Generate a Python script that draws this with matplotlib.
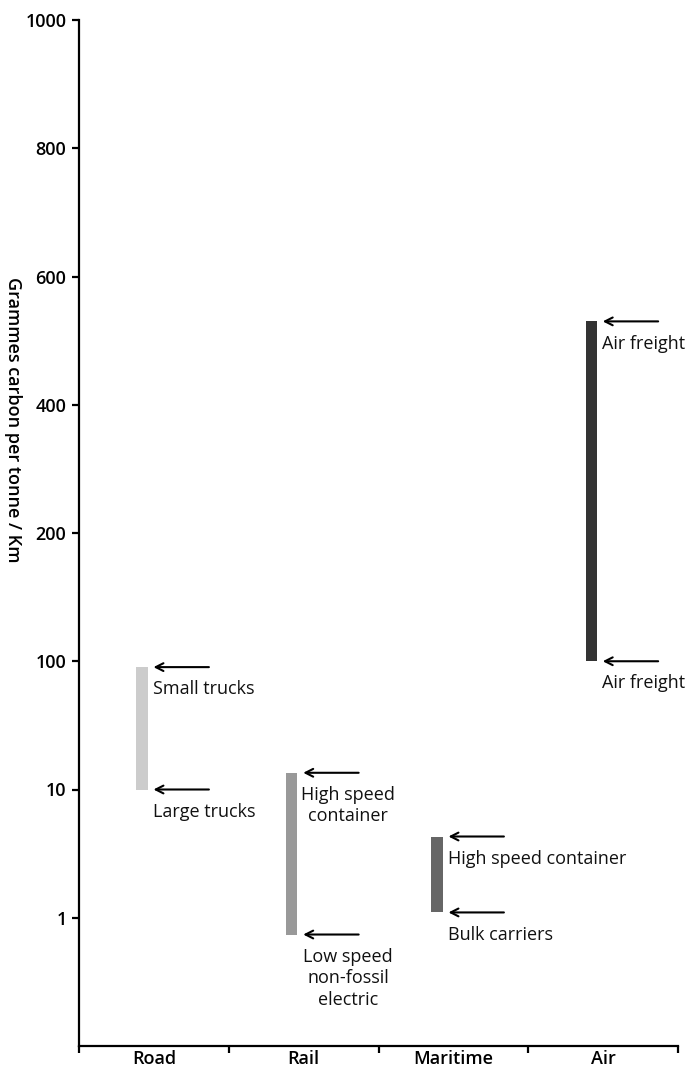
import numpy as np
import matplotlib
matplotlib.use("Agg")
import matplotlib.pyplot as plt
from matplotlib.ticker import NullLocator, FixedLocator

plt.rcParams['font.family'] = ['Open Sans', 'DejaVu Sans']

# Carbon intensity ranges per transport mode (g carbon per tonne-km)
modes = ["Road", "Rail", "Maritime", "Air"]
low_vals = [10, 0.74, 1.1, 100]
high_vals = [90, 13.5, 4.3, 530]
high_labels = ["Small trucks", "High speed\ncontainer", "High speed container", "Air freight"]
low_labels = ["Large trucks", "Low speed\nnon-fossil\nelectric", "Bulk carriers", "Air freight"]
bar_colors = ["#cccccc", "#999999", "#666666", "#333333"]
label_align = ["left", "center", "left", "left"]
bar_shift = [-0.08, -0.08, -0.11, -0.08]

y_ticks = [1, 10, 100, 200, 400, 600, 800, 1000]

# log below 100, stepped linear above
lin_v = [100, 200, 400, 600, 800, 1000]
lin_p = [2, 3, 4, 5, 6, 7]


def forward(v):
    v = np.asarray(v, dtype=float)
    logp = np.log10(np.clip(v, 1e-9, None))
    return np.where(v <= 100, logp, np.interp(v, lin_v, lin_p))


def inverse(p):
    p = np.asarray(p, dtype=float)
    return np.where(p <= 2, 10.0 ** np.clip(p, -10, 2), np.interp(p, lin_p, lin_v))


fig = plt.figure(figsize=(6.92, 10.70), dpi=100)
ax = fig.add_axes([79 / 692, 1 - 1046 / 1070, (678 - 79) / 692, (1046 - 20) / 1070])
ax.set_yscale("function", functions=(forward, inverse))
ax.set_ylim(0.1, 1000)
ax.set_xlim(-0.5, 3.5)

x = np.arange(len(modes))
bar_x = x + np.array(bar_shift)
bar_w = 0.075
ax.bar(bar_x, np.array(high_vals) - np.array(low_vals), bottom=low_vals,
       width=bar_w, color=bar_colors, zorder=2)

# arrows pointing at each end of the range, with a caption underneath
arrow_kw = dict(arrowstyle="->,head_length=0.55,head_width=0.28",
                lw=1.5, color="black", shrinkA=0, shrinkB=0)
for i in range(len(modes)):
    head = bar_x[i] + bar_w / 2 + 0.04
    tail = head + 0.37
    tx = head - 0.005 if label_align[i] == "left" else head + 0.30
    for val, lab in ((high_vals[i], high_labels[i]), (low_vals[i], low_labels[i])):
        ax.annotate("", xy=(head, val), xytext=(tail, val), arrowprops=arrow_kw)
        ax.annotate(lab, xy=(tx, val), xytext=(0, -9.5), textcoords="offset points",
                    ha=label_align[i], va="top", fontsize=13,
                    linespacing=1.25, color="#111111")

# axes styling
for side in ("top", "right"):
    ax.spines[side].set_visible(False)
for side in ("left", "bottom"):
    ax.spines[side].set_linewidth(1.6)

ax.set_yticks(y_ticks)
ax.set_yticklabels([str(t) for t in y_ticks])
ax.yaxis.set_minor_locator(NullLocator())
ax.tick_params(axis="y", length=5, width=1.6, pad=4, labelsize=13)

ax.set_xticks(x)
ax.set_xticklabels(modes)
ax.xaxis.set_minor_locator(FixedLocator(np.arange(-0.5, 4.0, 1.0)))
ax.tick_params(axis="x", which="major", length=0, pad=3, labelsize=13)
ax.tick_params(axis="x", which="minor", length=5, width=1.6)

for lbl in ax.get_xticklabels() + ax.get_yticklabels():
    lbl.set_fontweight("semibold")

fig.text(13 / 692, 1 - 420 / 1070, "Grammes carbon per tonne / Km",
         rotation=-90, ha="center", va="center", fontsize=13, fontweight="semibold")

fig.savefig("out.png", dpi=100, facecolor="white")
